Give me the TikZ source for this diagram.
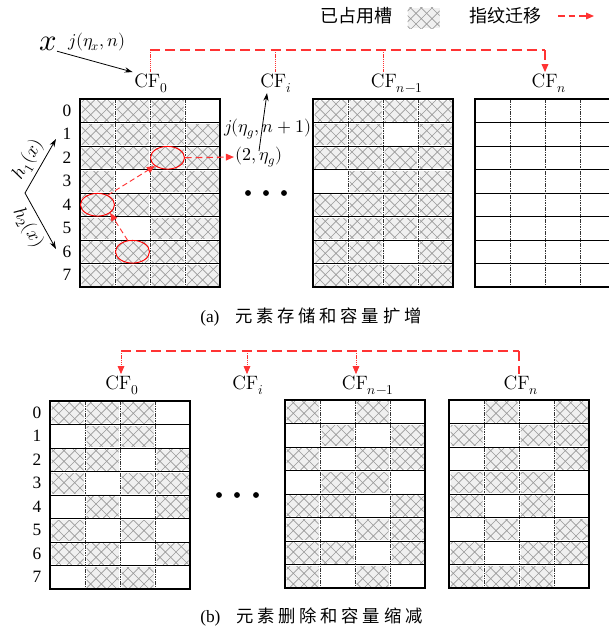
\documentclass[tikz,border=0pt]{standalone}
\usepackage{fontspec}
\usepackage{unicode-math}
\setmathfont{Latin Modern Math}
\newfontfamily\cjk{Noto Sans CJK SC}
\newfontfamily\cjkcap[LetterSpace=22]{Noto Sans CJK SC}
\newfontfamily\tms{Liberation Serif}
\usetikzlibrary{patterns,shapes.geometric,arrows.meta}

\pgfdeclarepatternformonly{diamondhatch}{\pgfqpoint{-1pt}{-1pt}}{\pgfqpoint{9pt}{9pt}}{\pgfqpoint{8pt}{8pt}}{%
  \pgfsetlinewidth{0.5pt}%
  \pgfpathmoveto{\pgfqpoint{0pt}{0pt}}\pgfpathlineto{\pgfqpoint{8pt}{8pt}}%
  \pgfpathmoveto{\pgfqpoint{0pt}{8pt}}\pgfpathlineto{\pgfqpoint{8pt}{0pt}}%
  \pgfusepath{stroke}}

\newcommand\hatchcell[2]{%
  \fill[gray!12] (#1+1.5,#2+1.5) rectangle ++(32,20.5);
  \fill[pattern=diamondhatch, pattern color=gray!80] (#1+1.5,#2+1.5) rectangle ++(32,20.5);}

\newcommand\cfgrid[3]{%
  \foreach \rowpat [count=\rr from 0] in {#3} {%
    \foreach \vv [count=\cc from 0] in \rowpat {%
      \ifnum\vv=1 \hatchcell{#1+35*\cc}{#2+23.5*\rr}\fi
    }%
  }%
  \foreach \rr in {1,...,7} \draw[hline] (#1,#2+23.5*\rr) -- ++(140,0);
  \foreach \cc in {1,2,3} \draw[vdash] (#1+35*\cc,#2) -- ++(0,188);
  \draw[line width=0.8pt] (#1,#2) rectangle ++(140,188);
}

\begin{document}
\begin{tikzpicture}[x=0.75pt,y=-0.75pt,
  font=\fontsize{13}{15}\selectfont,
  hline/.style={line width=0.6pt},
  vdash/.style={line width=0.5pt, dash pattern=on 1.2pt off 0.6pt, black!80},
  reddash/.style={red!80, line width=0.9pt, dash pattern=on 7.5pt off 3.8pt},
  reddot/.style={red!80, line width=0.6pt, dash pattern=on 1pt off 0.6pt},
  rtip/.style={-{Triangle[length=6pt,width=5pt]}},
  blk/.style={-{Stealth[length=6pt,width=4pt]}, line width=0.6pt},
  circ/.style={ellipse, draw=red, line width=0.7pt, minimum width=25.5pt, minimum height=17pt, inner sep=0pt},
  lbl/.style={inner sep=1pt, font=\fontsize{14.5}{17}\selectfont},
  mth/.style={inner sep=1pt, font=\fontsize{13.5}{16}\selectfont},
  rowlbl/.style={inner sep=1pt, font=\fontsize{13}{15}\selectfont\tms}]
\useasboundingbox (0,0) rectangle (609,632);
\clip (0,0) rectangle (609,632);

% ---------- legend ----------
\node[inner sep=0pt, font=\fontsize{13.5}{16}\selectfont\cjk] (lg1) at (356,16) {已占用槽};
\hatchcell{406}{6}
\node[inner sep=0pt, font=\fontsize{13.5}{16}\selectfont\cjk] (lg2) at (505,16) {指纹迁移};
\coordinate (la) at (558,16);
\coordinate (lb) at (594,16);
\draw[reddash, line width=0.8pt, dash pattern=on 5pt off 3pt, rtip] (la) -- (lb);

% ---------- part (a) ----------
\cfgrid{80}{99}{{1,1,1,0},{1,1,1,1},{1,1,1,1},{1,0,1,1},{1,1,1,1},{1,0,1,1},{1,1,1,1},{1,1,1,1}}
\cfgrid{313}{99}{{1,1,1,1},{1,1,0,1},{1,1,1,1},{0,1,1,1},{1,1,1,1},{1,1,1,1},{1,1,0,1},{1,1,1,1}}
\cfgrid{475}{99}{{0,0,0,0},{0,0,0,0},{0,0,0,0},{0,0,0,0},{0,0,0,0},{0,0,0,0},{0,0,0,0},{0,0,0,0}}

\foreach \i in {0,...,7} \node[rowlbl] (ra\i) at (67,{99+23.5*(\i+0.5)}) {\i};

\node[lbl] (cf0a) at (151,83) {CF$_0$};
\node[lbl] (cfia) at (276,83) {CF$_i$};
\node[lbl] (cfn1a) at (397,83) {CF$_{n-1}$};
\node[lbl] (cfna) at (549,83) {CF$_n$};

\coordinate (ta) at (150,50);
\coordinate (tb) at (545,50);
\coordinate (ti) at (275,50);
\coordinate (tn1) at (383,50);
\draw[reddash] (ta) -- (tb);
\draw[reddot] (ta) -- (ta |- cf0a.north);
\draw[reddot] (ti) -- (ti |- cfia.north);
\draw[reddot] (tn1) -- (tn1 |- cfn1a.north);
\draw[reddash, rtip] (tb) -- (tb |- cfna.north);

% input x
\node[inner sep=0pt, font=\fontsize{23}{25}\selectfont] (xin) at (48,44) {$x$};
\node[mth] (jx) at (97,42) {$j(\eta_x,n)$};
\draw[blk] (xin.south east) -- (cf0a.north west);

% hash functions
\coordinate (hv) at (25,193);
\coordinate (h1) at (56,139);
\coordinate (h2) at (56,249);
\draw[blk] (hv) -- node[sloped, above=2pt, inner sep=1pt, font=\fontsize{14}{16}\selectfont] {$h_1(x)$} (h1);
\draw[blk] (hv) -- node[sloped, below=2pt, inner sep=1pt, font=\fontsize{14}{16}\selectfont] {$h_2(x)$} (h2);

% circled entries
\node[circ] (e1) at (167.5,157.75) {};
\node[circ] (e2) at (97.5,204.75) {};
\node[circ] (e3) at (132.5,251.75) {};
\node[mth] (g2) at (259,157) {$(2,\eta_g)$};
\node[mth] (jg) at (268,129) {$j(\eta_g,n+1)$};
\draw[reddash, line width=0.7pt, dash pattern=on 4pt off 2.5pt, rtip] (e3.113) -- (e2.-33);
\draw[reddash, line width=0.7pt, dash pattern=on 4pt off 2.5pt, rtip] (e2.43) -- (e1.213);
\draw[reddash, line width=0.8pt, dash pattern=on 5pt off 3pt, rtip] (e1.east) -- (g2.west);
\coordinate (gs) at (259,151);
\coordinate (gt) at (267,93);
\draw[blk] (gs) -- (gt);

% dots
\foreach \xx in {248,266,284} \fill (\xx,193) circle (2.2pt);

\node[anchor=west, inner sep=0pt] (capa) at (200,317) {{\tms (a)}\hspace{0.9em}{\cjkcap 元素存储和容量扩增}};

% ---------- part (b) ----------
\cfgrid{50}{401}{{1,1,1,0},{0,1,1,0},{1,1,0,1},{1,0,1,1},{0,1,0,1},{1,0,1,0},{1,1,0,1},{0,1,1,0}}
\cfgrid{285}{400}{{1,0,1,0},{0,1,0,1},{1,0,1,1},{0,1,1,0},{1,1,0,1},{1,0,1,1},{1,1,0,1},{1,0,1,0}}
\cfgrid{449}{400}{{0,1,0,1},{1,0,1,1},{0,1,0,1},{1,1,1,0},{1,0,1,0},{0,1,0,1},{1,0,1,1},{1,1,1,0}}

\foreach \i in {0,...,7} \node[rowlbl] (rb\i) at (37,{401+23.5*(\i+0.5)}) {\i};

\node[lbl] (cf0b) at (122,385) {CF$_0$};
\node[lbl] (cfib) at (248,385) {CF$_i$};
\node[lbl] (cfn1b) at (368,385) {CF$_{n-1}$};
\node[lbl] (cfnb) at (521,385) {CF$_n$};

\coordinate (ua) at (121,351);
\coordinate (ub) at (519,351);
\coordinate (ui) at (247,351);
\coordinate (un1) at (356,351);
\draw[reddash] (ua) -- (ub);
\draw[reddot, rtip] (ua) -- (ua |- cf0b.north);
\draw[reddot, rtip] (ui) -- (ui |- cfib.north);
\draw[reddot, rtip] (un1) -- (un1 |- cfn1b.north);
\draw[reddash] (ub) -- (ub |- cfnb.north);

\foreach \xx in {219,237,256} \fill (\xx,495) circle (2.2pt);

\node[anchor=west, inner sep=0pt] (capb) at (200,617) {{\tms (b)}\hspace{0.9em}{\cjkcap 元素删除和容量缩减}};
\end{tikzpicture}
\end{document}
